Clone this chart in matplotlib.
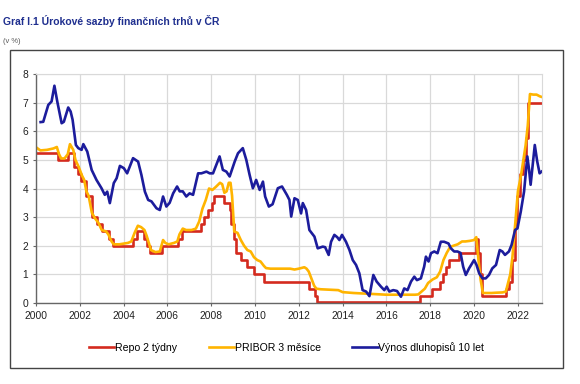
import matplotlib.pyplot as plt
from matplotlib.patches import Rectangle

plt.rcParams['font.family'] = ['Liberation Sans', 'DejaVu Sans']

# Repo 2 tydny - change points (decimal year, %)
repo_t = [2000.0, 2001.02, 2001.47, 2001.72, 2001.9, 2002.05, 2002.3, 2002.55, 2002.8,
          2003.0, 2003.35, 2003.5, 2004.45, 2004.6, 2004.95, 2005.05, 2005.2, 2005.75,
          2006.5, 2006.68, 2007.55, 2007.65, 2007.85, 2008.05, 2008.12, 2008.6, 2008.85,
          2008.92, 2009.02, 2009.15, 2009.38, 2009.62, 2009.95, 2010.4, 2012.45, 2012.75,
          2012.85, 2017.55, 2018.08, 2018.45, 2018.6, 2018.72, 2018.85, 2019.3, 2020.08,
          2020.2, 2020.25, 2020.35, 2021.45, 2021.6, 2021.72, 2021.85, 2021.97, 2022.1,
          2022.25, 2022.35, 2022.47, 2023.08]
repo_v = [5.25, 5.0, 5.25, 4.75, 4.5, 4.25, 3.75, 3.0, 2.75,
          2.5, 2.25, 2.0, 2.25, 2.5, 2.25, 2.0, 1.75, 2.0,
          2.25, 2.5, 2.75, 3.0, 3.25, 3.5, 3.75, 3.5, 3.25,
          2.75, 2.25, 1.75, 1.5, 1.25, 1.0, 0.75, 0.5, 0.25,
          0.05, 0.25, 0.5, 0.75, 1.0, 1.25, 1.5, 1.75, 2.25,
          1.75, 1.0, 0.25, 0.5, 0.75, 1.5, 2.75, 3.75, 4.5,
          5.0, 5.75, 7.0, 7.0]

# PRIBOR 3 mesice
pribor_t = [2000.0, 2000.2, 2000.5, 2000.8, 2000.95, 2001.05, 2001.15, 2001.3, 2001.45,
            2001.55, 2001.7, 2001.8, 2001.95, 2002.1, 2002.2, 2002.3, 2002.4, 2002.55,
            2002.7, 2002.85, 2003.0, 2003.2, 2003.3, 2003.45, 2003.55, 2003.8, 2004.2,
            2004.35, 2004.5, 2004.65, 2004.8, 2004.95, 2005.05, 2005.15, 2005.25, 2005.45,
            2005.65, 2005.8, 2005.9, 2006.05, 2006.3, 2006.45, 2006.55, 2006.7, 2006.85,
            2007.1, 2007.3, 2007.45, 2007.6, 2007.75, 2007.9, 2008.05, 2008.2, 2008.4,
            2008.5, 2008.6, 2008.7, 2008.8, 2008.88, 2008.95, 2009.05, 2009.2, 2009.35,
            2009.5, 2009.65, 2009.8, 2009.95, 2010.1, 2010.25, 2010.4, 2010.5, 2010.7,
            2011.0, 2011.3, 2011.6, 2011.8, 2012.0, 2012.25, 2012.35, 2012.45, 2012.55,
            2012.7, 2012.8, 2013.0, 2013.5, 2013.8, 2014.0, 2014.5, 2015.0, 2015.5,
            2016.0, 2016.5, 2017.0, 2017.3, 2017.45, 2017.6, 2017.75, 2017.9, 2018.1,
            2018.3, 2018.45, 2018.6, 2018.75, 2018.9, 2019.05, 2019.25, 2019.45, 2019.6,
            2019.8, 2020.0, 2020.1, 2020.2, 2020.3, 2020.4, 2020.5, 2020.8, 2021.0,
            2021.3, 2021.45, 2021.55, 2021.65, 2021.75, 2021.9, 2022.0, 2022.15, 2022.25,
            2022.35, 2022.45, 2022.55, 2022.7, 2022.85, 2023.0, 2023.08]
pribor_v = [5.44, 5.33, 5.35, 5.4, 5.45, 5.2, 5.05, 5.05, 5.2,
            5.55, 5.35, 5.0, 4.75, 4.45, 4.3, 3.9, 3.75, 3.15,
            2.95, 2.8, 2.55, 2.5, 2.4, 2.15, 2.05, 2.05, 2.1,
            2.15, 2.45, 2.7, 2.65, 2.55, 2.35, 2.1, 1.85, 1.78,
            1.8, 2.2, 2.1, 2.05, 2.1, 2.15, 2.4, 2.6, 2.55,
            2.55, 2.6, 2.85, 3.3, 3.6, 4.0, 3.95, 4.05, 4.2,
            4.15, 3.85, 3.9, 4.2, 4.2, 3.75, 2.5, 2.45, 2.2,
            2.0, 1.85, 1.8, 1.6, 1.5, 1.45, 1.3, 1.22, 1.2,
            1.2, 1.2, 1.2, 1.17, 1.2, 1.25, 1.2, 1.1, 0.9,
            0.6, 0.5, 0.48, 0.46, 0.45, 0.38, 0.35, 0.33, 0.31,
            0.29, 0.29, 0.29, 0.29, 0.3, 0.4, 0.5, 0.7, 0.82,
            0.9, 1.1, 1.5, 1.75, 1.95, 2.0, 2.05, 2.15, 2.15,
            2.17, 2.2, 2.3, 1.5, 0.8, 0.35, 0.35, 0.35, 0.36,
            0.37, 0.4, 0.7, 1.0, 1.6, 3.0, 3.9, 4.5, 5.0,
            5.5, 6.2, 7.3, 7.28, 7.28, 7.22, 7.2]

# Vynos dluhopisu 10 let
bond_t = [2000.21, 2000.33, 2000.56, 2000.71, 2000.84, 2000.97, 2001.17, 2001.27, 2001.47,
          2001.58, 2001.67, 2001.82, 2001.93, 2002.08, 2002.16, 2002.34, 2002.54, 2002.76,
          2002.99, 2003.14, 2003.25, 2003.37, 2003.55, 2003.68, 2003.83, 2004.01, 2004.16,
          2004.43, 2004.66, 2004.81, 2004.97, 2005.12, 2005.27, 2005.5, 2005.65, 2005.8,
          2005.95, 2006.1, 2006.26, 2006.44, 2006.56, 2006.7, 2006.86, 2007.01, 2007.17,
          2007.4, 2007.55, 2007.78, 2007.93, 2008.08, 2008.38, 2008.53, 2008.69, 2008.84,
          2009.07, 2009.22, 2009.44, 2009.6, 2009.75, 2009.9, 2010.05, 2010.21, 2010.36,
          2010.46, 2010.63, 2010.8, 2011.04, 2011.23, 2011.45, 2011.57, 2011.65, 2011.8,
          2011.95, 2012.1, 2012.18, 2012.33, 2012.48, 2012.71, 2012.86, 2013.09, 2013.2,
          2013.36, 2013.47, 2013.62, 2013.75, 2013.85, 2013.97, 2014.15, 2014.31, 2014.46,
          2014.61, 2014.76, 2014.91, 2015.07, 2015.22, 2015.4, 2015.55, 2015.75, 2015.9,
          2016.01, 2016.13, 2016.31, 2016.48, 2016.66, 2016.81, 2016.96, 2017.12, 2017.27,
          2017.39, 2017.57, 2017.72, 2017.8, 2017.92, 2018.03, 2018.18, 2018.33, 2018.48,
          2018.63, 2018.83, 2018.94, 2019.09, 2019.24, 2019.38, 2019.5, 2019.62, 2019.77,
          2020.0, 2020.11, 2020.23, 2020.38, 2020.53, 2020.68, 2020.83, 2021.0, 2021.17,
          2021.29, 2021.41, 2021.59, 2021.71, 2021.87, 2021.98, 2022.13, 2022.28, 2022.43,
          2022.51, 2022.58, 2022.77, 2022.88, 2022.99, 2023.08]
bond_v = [6.32, 6.33, 6.92, 7.04, 7.59, 7.04, 6.28, 6.33, 6.83,
          6.69, 6.4, 5.52, 5.41, 5.35, 5.55, 5.29, 4.65, 4.3,
          4.01, 3.78, 3.89, 3.49, 4.19, 4.36, 4.79, 4.71, 4.53,
          5.06, 4.94, 4.48, 3.89, 3.6, 3.55, 3.31, 3.25, 3.72,
          3.37, 3.5, 3.83, 4.07, 3.9, 3.9, 3.72, 3.83, 3.78,
          4.53, 4.53, 4.59, 4.53, 4.53, 5.12, 4.65, 4.59, 4.42,
          4.94, 5.23, 5.41, 5.0, 4.48, 4.01, 4.3, 3.95, 4.24,
          3.72, 3.37, 3.45, 4.01, 4.07, 3.78, 3.6, 3.02, 3.66,
          3.6, 3.13, 3.49, 3.25, 2.55, 2.32, 1.91, 1.97, 1.95,
          1.68, 2.14, 2.38, 2.3, 2.2, 2.38, 2.14, 1.85, 1.5,
          1.33, 1.04, 0.45, 0.4, 0.24, 0.98, 0.75, 0.57, 0.45,
          0.57, 0.4, 0.45, 0.42, 0.22, 0.51, 0.45, 0.75, 0.92,
          0.8, 0.86, 1.27, 1.62, 1.45, 1.74, 1.8, 1.74, 2.14,
          2.14, 2.08, 1.91, 1.8, 1.8, 1.75, 1.27, 0.98, 1.21,
          1.5, 1.33, 1.04, 0.86, 0.86, 0.98, 1.21, 1.33, 1.85,
          1.8, 1.68, 1.8, 2.03, 2.55, 2.61, 3.19, 3.89, 5.12,
          4.65, 4.13, 5.52, 4.95, 4.53, 4.59]

labels = ['Repo 2 týdny', 'PRIBOR 3 měsíce', 'Výnos dluhopisů 10 let']
colors = ['#d42a1e', '#ffb400', '#1c1c9c']

fig = plt.figure(figsize=(5.8, 3.84), dpi=100)

# outer frame
fig.patches.append(Rectangle((0.0172, 0.0417), 0.9534, 0.828, transform=fig.transFigure,
                             fill=False, edgecolor='#444444', linewidth=1.0))

fig.text(0.006, 0.945, 'Graf I.1 Úrokové sazby finančních trhů v ČR', color='#1f2f8f',
         fontsize=7.5, fontweight='bold', va='center', ha='left')
fig.text(0.006, 0.893, '(v %)', color='#555555', fontsize=5.4, va='center', ha='left')

ax = fig.add_axes([0.0621, 0.2109, 0.8724, 0.5964])

ax.plot(repo_t, repo_v, color=colors[0], lw=1.9, drawstyle='steps-post', label=labels[0])
ax.plot(pribor_t, pribor_v, color=colors[1], lw=1.9, label=labels[1])
ax.plot(bond_t, bond_v, color=colors[2], lw=1.9, label=labels[2])

ax.set_xlim(2000, 2023.1)
ax.set_ylim(0, 8)
ax.set_xticks(range(2000, 2023, 2))
ax.set_yticks(range(0, 9))
ax.grid(True, color='#d9d9d9', lw=0.9)
ax.set_axisbelow(True)
for s in ['top', 'right']:
    ax.spines[s].set_color('#d9d9d9')
for s in ['left', 'bottom']:
    ax.spines[s].set_color('#666666')
    ax.spines[s].set_linewidth(1.0)
ax.tick_params(labelsize=7.4, length=2.5, width=0.8, color='#666666', labelcolor='#222222', pad=3)

fig.legend(loc='center', bbox_to_anchor=(0.494, 0.096), bbox_transform=fig.transFigure,
           ncol=3, frameon=False, fontsize=7.6, handlelength=2.4, handletextpad=0.05,
           columnspacing=3.0)

fig.savefig('out.png', dpi=100)
